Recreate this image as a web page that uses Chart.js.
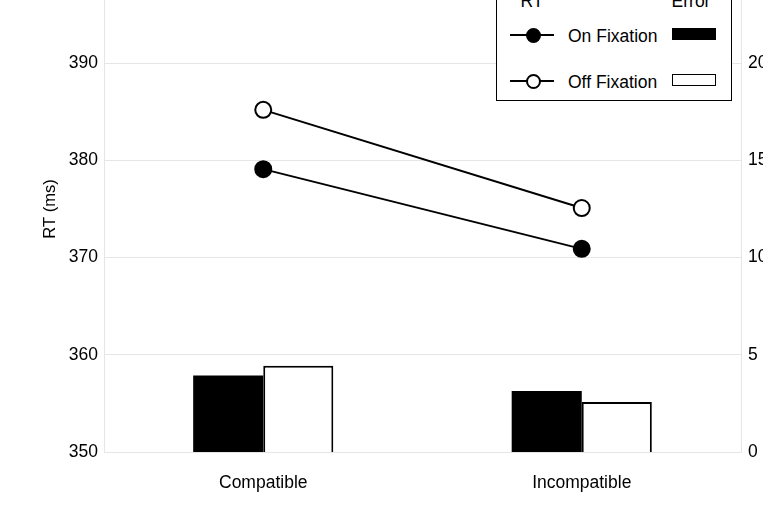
<!DOCTYPE html>
<html>
<head>
<meta charset="utf-8">
<script src="https://cdn.jsdelivr.net/npm/chart.js@4.4.1/dist/chart.umd.min.js"></script>
<style>
  html, body { margin: 0; padding: 0; background: #fff; }
  #page { position: relative; width: 763px; height: 530px; overflow: hidden;
          font-family: "Liberation Sans", Arial, sans-serif; color: #000; }
  /* chart is a bit bigger than the window: top and right edge are cut off like in the original */
  #holder { position: absolute; left: 0; top: -60px; width: 800px; height: 590px; }
  #legend { position: absolute; left: 496px; top: -30px; width: 236px; height: 131px;
            box-sizing: border-box; border: 1.5px solid #000; background: #fff; font-size: 17.5px; }
  #legend .head { position: absolute; top: 20px; line-height: 20px; transform: translateX(-50%); }
  #legend .txt { position: absolute; left: 71px; line-height: 20px; }
  #legend .line { position: absolute; left: 13px; width: 44px; border-top: 2px solid #000; }
  #legend .dot { position: absolute; left: 29px; width: 11px; height: 11px; border-radius: 50%;
                 border: 2px solid #000; }
  #legend .sw { position: absolute; left: 175px; width: 42px; height: 10px; border: 1.5px solid #000; }
</style>
</head>
<body>
<div id="page">
  <div id="holder"><canvas id="chart"></canvas></div>
  <div id="legend"></div>
</div>
<script>
// valores
const categorias = ['Compatible', 'Incompatible'];
const rtOnFixation = [379.1, 370.9];
const rtOffFixation = [385.2, 375.1];
const errOnFixation = [3.94, 3.14];
const errOffFixation = [4.44, 2.57];
const rtTicks = [350, 360, 370, 380, 390, 400];
const errTicks = [0, 5, 10, 15, 20, 25];
const nomes = ['On Fixation', 'Off Fixation'];
const cores = ['#000000', '#ffffff'];

const fonte = 'Liberation Sans, Arial, sans-serif';
const cinza = '#e6e6e6';

const ctx = document.getElementById('chart').getContext('2d');

new Chart(ctx, {
  type: 'bar',
  data: {
    labels: categorias,
    datasets: [
      { type: 'line', label: 'RT ' + nomes[0], data: rtOnFixation, yAxisID: 'y', order: 1,
        borderColor: '#000', borderWidth: 2, pointRadius: 8, pointBackgroundColor: cores[0],
        pointBorderColor: '#000', pointBorderWidth: 2, fill: false },
      { type: 'line', label: 'RT ' + nomes[1], data: rtOffFixation, yAxisID: 'y', order: 1,
        borderColor: '#000', borderWidth: 2, pointRadius: 8, pointBackgroundColor: cores[1],
        pointBorderColor: '#000', pointBorderWidth: 2, fill: false },
      // barra preta sem borda (evita a linha clara por dentro)
      { type: 'bar', label: 'Error ' + nomes[0], data: errOnFixation, yAxisID: 'y1', order: 2,
        backgroundColor: cores[0], borderWidth: 0,
        categoryPercentage: 0.44, barPercentage: 1 },
      { type: 'bar', label: 'Error ' + nomes[1], data: errOffFixation, yAxisID: 'y1', order: 2,
        backgroundColor: cores[1], borderColor: '#000', borderWidth: 2,
        categoryPercentage: 0.44, barPercentage: 1 }
    ]
  },
  options: {
    responsive: true,
    maintainAspectRatio: false,
    animation: false,
    devicePixelRatio: 1,
    layout: { padding: { top: 26, left: 0, right: 0, bottom: 0 } },
    plugins: { legend: { display: false }, tooltip: { enabled: false } },
    scales: {
      x: {
        grid: { display: false },
        border: { color: cinza },
        ticks: { color: '#000', font: { family: fonte, size: 17.5 }, padding: 13 },
        afterFit: (s) => { s.height = 78; }
      },
      y: {
        position: 'left',
        min: rtTicks[0],
        max: rtTicks[rtTicks.length - 1],
        ticks: { stepSize: rtTicks[1] - rtTicks[0], color: '#000', font: { family: fonte, size: 17.5 }, padding: 6 },
        grid: { color: cinza, drawTicks: false },
        border: { color: cinza },
        title: { display: true, text: 'RT (ms)', color: '#000', font: { family: fonte, size: 16.5 },
                 padding: { top: 41, bottom: 0 } },
        afterFit: (s) => { s.width = 104; }
      },
      y1: {
        position: 'right',
        min: errTicks[0],
        max: errTicks[errTicks.length - 1],
        ticks: { stepSize: errTicks[1] - errTicks[0], color: '#000', font: { family: fonte, size: 17.5 }, padding: 7 },
        grid: { display: false, drawTicks: false },
        border: { color: cinza },
        afterFit: (s) => { s.width = 59; }
      }
    }
  }
});

// legenda em HTML (caixa com colunas RT / Error)
const legenda = document.getElementById('legend');
let html = '<div class="head" style="left:35px">RT</div><div class="head" style="left:194px">Error</div>';
const linhasY = [63, 109];
nomes.forEach((nome, i) => {
  const y = linhasY[i];
  html += `<div class="line" style="top:${y}px"></div>`;
  html += `<div class="dot" style="top:${y - 6}px;background:${cores[i]}"></div>`;
  html += `<div class="txt" style="top:${y - 8}px">${nome}</div>`;
  html += `<div class="sw" style="top:${y - 6}px;background:${cores[i]}"></div>`;
});
legenda.innerHTML = html;
</script>
</body>
</html>
